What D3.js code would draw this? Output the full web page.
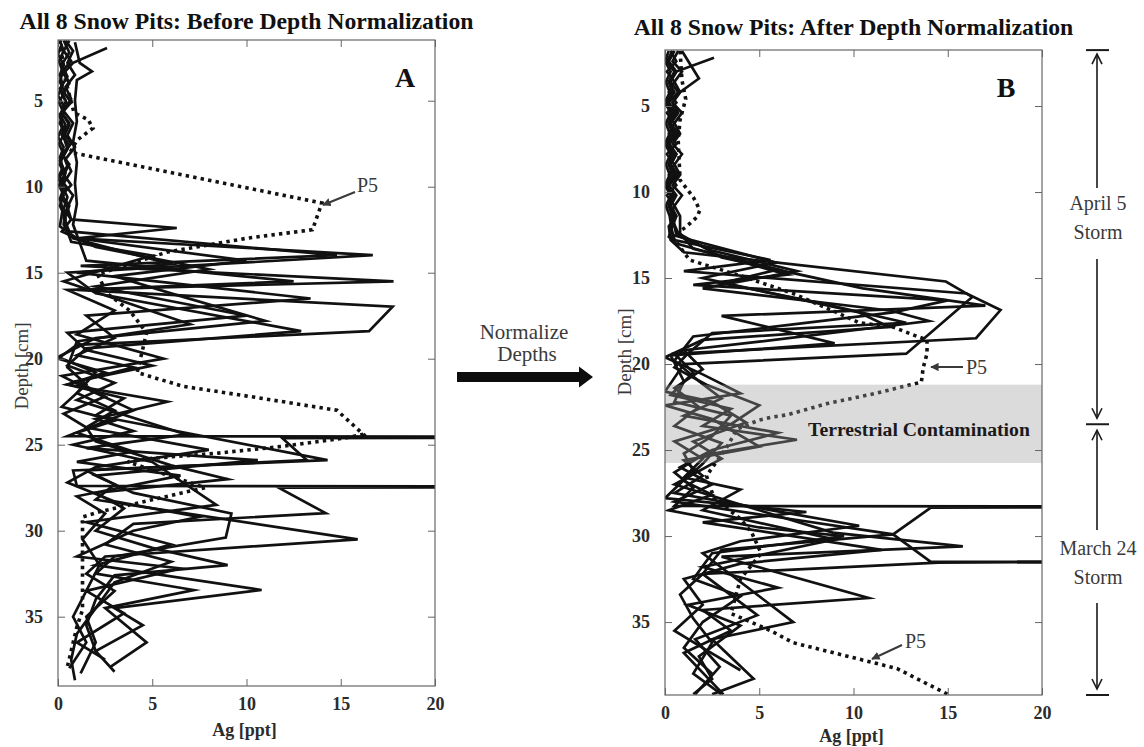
<!DOCTYPE html>
<html>
<head>
<meta charset="utf-8">
<script src="https://cdn.jsdelivr.net/npm/d3@7"></script>
<style>
  body { margin: 0; background: #fff; }
  svg text { font-family: "Liberation Serif", "DejaVu Serif", serif; }
</style>
</head>
<body>
<svg id="fig" width="1144" height="747"></svg>
<script>
// Ag concentration [ppt] vs depth [cm] for the eight snow pits.
// Each pit is a list of [Ag, depth] samples, top of the pit first.

// ---- Before depth normalization ----
const beforePit1 = [[0.3,1.5],[0.6,2.2],[0.2,2.9],[0.5,3.6],[0.1,4.3],[0.4,5.0],[0.2,5.7],[0.6,6.4],[0.3,7.1],[0.5,7.8],[0.1,8.5],[0.4,9.2],[0.2,9.9],[0.5,10.6],[0.3,11.3],[0.7,11.9],[6.3,12.4],[1.0,13.0],[16.7,13.98],[0.5,15.0],[2.0,16.2],[12.9,18.4],[1.5,19.4],[0.5,20.4],[3.0,21.4],[1.0,22.4],[6.8,24.4],[1.5,25.2],[10.6,25.9],[2.0,26.8],[4.0,27.8],[9.2,29.0],[8.9,30.4],[3.0,31.5],[2.0,32.5],[7.2,33.45],[2.5,34.5],[4.7,36.5],[2.8,37.9]];
const beforePit2 = [[2.6,1.94],[0.8,2.8],[0.3,3.4],[0.6,4.0],[0.2,4.6],[0.5,5.2],[0.1,5.8],[0.4,6.4],[0.2,7.0],[0.6,7.6],[0.3,8.2],[0.5,8.8],[0.1,9.4],[0.4,10.0],[0.2,10.6],[0.5,11.2],[0.3,11.8],[0.6,12.6],[14.8,13.98],[1.2,14.6],[17.8,15.5],[0.5,16.0],[3.0,17.2],[1.0,18.6],[5.6,20.0],[0.2,21.0],[2.0,22.0],[4.0,23.0],[0.5,24.5],[40,24.55],[11.9,24.62],[13.2,25.9],[1.5,26.5],[3.0,27.3],[2.0,28.2],[15.9,30.5],[2.5,31.5],[1.5,32.5],[3.0,33.5],[1.5,35.0],[2.0,36.5],[1.2,38.3]];
const beforePit3 = [[0.9,1.6],[1.15,2.8],[1.8,3.3],[1.0,3.8],[0.9,5.0],[1.0,6.2],[0.8,7.4],[1.0,8.6],[0.9,9.8],[1.0,11.0],[0.8,12.2],[1.5,14.3],[12.5,15.5],[1.0,16.0],[17.75,16.98],[16.5,18.4],[1.0,19.2],[0.0,20.0],[2.5,20.8],[0.5,21.5],[3.5,22.3],[2.0,23.3],[14.3,25.9],[0.8,26.5],[1.0,27.4],[40,27.45],[11.7,27.5],[14.2,28.98],[4.0,29.6],[2.5,30.8],[6.0,31.8],[3.0,33.0],[2.0,34.5],[1.0,36.0],[0.7,37.5],[0.9,38.7]];
const beforePit4 = [[0.1,1.5],[0.3,2.1],[0.05,2.7],[0.25,3.3],[0.1,3.9],[0.35,4.5],[0.05,5.1],[0.3,5.7],[0.1,6.3],[0.35,6.9],[0.05,7.5],[0.3,8.1],[0.1,8.7],[0.35,9.3],[0.05,9.9],[0.3,10.5],[0.1,11.1],[0.35,11.7],[0.3,12.2],[0.8,13.0],[6.0,14.5],[1.0,15.0],[13.4,16.5],[1.5,17.5],[3.0,18.8],[1.0,19.8],[4.0,20.5],[0.5,21.5],[5.8,22.5],[2.0,23.5],[4.0,24.2],[0.8,25.0],[5.0,26.0],[8.4,28.5],[1.5,29.5],[6.0,30.8],[2.0,32.0],[10.8,33.45],[3.0,34.5],[4.5,35.5],[2.0,37.0],[3.0,38.2]];
const beforePit6 = [[0.4,1.5],[0.8,2.1],[0.5,2.8],[0.9,3.5],[0.4,4.2],[0.7,4.9],[0.3,5.6],[0.8,6.3],[0.5,7.0],[0.9,7.7],[0.4,8.4],[0.7,9.1],[0.3,9.8],[0.8,10.5],[0.5,11.2],[0.7,11.9],[0.2,12.6],[2.0,13.5],[8.0,14.8],[2.0,15.8],[10.0,17.5],[0.5,18.5],[1.5,19.5],[5.0,20.4],[1.0,21.3],[2.5,22.2],[0.3,23.2],[1.5,24.0],[8.0,25.3],[2.0,26.3],[0.5,27.2],[3.0,28.3],[7.5,29.2],[4.0,30.0],[1.0,31.5],[6.5,32.2],[1.5,33.5],[3.5,34.8],[1.0,36.5],[2.5,37.5]];
const beforePit7 = [[0.2,1.7],[0.0,2.3],[0.3,2.9],[0.1,3.5],[0.25,4.1],[0.0,4.7],[0.3,5.3],[0.1,5.9],[0.25,6.5],[0.0,7.1],[0.3,7.7],[0.1,8.3],[0.25,8.9],[0.0,9.5],[0.3,10.1],[0.1,10.7],[0.25,11.3],[0.1,12.3],[1.0,13.0],[10.0,14.3],[3.0,15.2],[6.0,16.2],[11.0,17.8],[2.0,18.8],[0.0,19.9],[2.0,20.8],[1.0,22.0],[3.0,23.0],[1.5,24.0],[2.0,24.8],[6.0,26.2],[9.0,27.0],[2.0,27.8],[3.5,28.7],[2.0,30.0],[5.0,31.0],[9.0,32.0],[3.0,32.6],[2.0,34.0],[1.5,35.5],[2.0,37.0]];
const beforePit8 = [[0.6,1.5],[0.3,2.1],[0.7,2.7],[0.2,3.3],[0.6,3.9],[0.3,4.5],[0.7,5.1],[0.2,5.7],[0.6,6.3],[0.3,6.9],[0.7,7.5],[0.2,8.1],[0.6,8.7],[0.3,9.3],[0.7,9.9],[0.2,10.5],[0.6,11.1],[0.4,11.7],[0.4,12.3],[0.7,13.2],[5.0,14.0],[0.3,15.5],[3.0,16.5],[7.0,18.0],[1.0,19.0],[0.5,20.5],[1.5,21.5],[0.2,22.8],[3.0,23.6],[1.0,24.3],[4.0,25.4],[1.0,26.0],[6.5,26.8],[1.0,28.0],[2.5,29.0],[1.3,30.5],[2.2,32.0],[1.5,33.5],[0.8,35.0],[1.5,36.5],[0.6,38.0]];
const beforeP5 = [[0.1,1.5],[0.4,3.8],[0.85,5.7],[1.6,6.1],[1.85,6.6],[1.0,7.3],[0.65,8.0],[14.0,10.95],[13.5,12.5],[10.0,13.0],[5.8,13.8],[2.1,15.1],[2.6,16.2],[3.8,17.2],[4.7,18.5],[4.2,20.8],[6.6,21.6],[10.2,22.2],[14.8,23.0],[16.2,24.4],[15.3,24.6],[11.9,25.1],[8.4,25.5],[4.9,25.8],[3.7,26.0],[7.8,27.5],[2.2,28.9],[1.3,29.2],[1.3,32.1],[1.3,34.6],[1.0,35.6],[0.5,37.9]];

// ---- After depth normalization ----
const afterPit1 = [[2.6,2.2],[0.6,3.0],[0.2,3.6],[0.5,4.2],[0.1,4.8],[0.4,5.4],[0.2,6.0],[0.5,6.6],[0.1,7.2],[0.4,7.8],[0.2,8.4],[0.5,9.0],[0.1,9.6],[0.4,10.2],[0.2,10.8],[0.5,11.4],[0.3,12.0],[0.5,12.8],[5.6,13.95],[1.0,14.6],[16.0,15.9],[17.8,16.86],[16.5,18.5],[0.5,19.4],[1.5,20.5],[0.3,21.8],[3.5,22.6],[2.0,23.6],[7.0,24.4],[2.0,25.3],[0.5,26.3],[1.5,27.2],[0.5,28.25],[40,28.3],[14.1,28.35],[12.1,29.9],[3.0,30.8],[2.0,32.2],[4.9,34.6],[1.6,36.0],[2.9,37.6],[1.6,39.2]];
const afterPit2 = [[0.9,1.8],[1.8,3.4],[0.8,4.2],[0.4,4.8],[0.7,5.4],[0.3,6.0],[0.6,6.6],[0.2,7.2],[0.6,7.8],[0.3,8.4],[0.6,9.0],[0.2,9.6],[0.5,10.2],[0.3,10.8],[0.6,11.4],[0.2,12.0],[0.3,12.8],[1.0,13.5],[14.9,15.2],[16.3,16.1],[12.8,19.4],[1.0,20.0],[0.0,21.6],[2.5,22.2],[4.3,23.4],[1.5,24.5],[3.0,25.5],[0.5,27.0],[8.9,29.8],[15.8,30.6],[3.0,31.2],[10.8,33.6],[2.0,34.3],[3.5,35.5],[1.0,36.8],[3.1,39.2]];
const afterPit3 = [[0.2,1.8],[0.0,2.4],[0.3,3.0],[0.05,3.6],[0.25,4.2],[0.0,4.8],[0.3,5.4],[0.05,6.0],[0.25,6.6],[0.0,7.2],[0.3,7.8],[0.05,8.4],[0.25,9.0],[0.0,9.6],[0.3,10.2],[0.05,10.8],[0.25,11.4],[0.4,12.5],[5.9,14.1],[2.0,15.0],[10.3,17.0],[11.9,17.85],[2.0,18.6],[0.0,19.6],[2.0,20.6],[4.0,21.7],[0.0,22.4],[2.5,23.2],[5.0,24.8],[1.0,25.6],[2.0,26.5],[0.5,27.5],[10.3,29.4],[4.0,30.3],[2.0,31.0],[6.8,35.0],[2.5,36.0],[4.7,38.3],[2.5,39.2]];
const afterPit4 = [[0.5,1.8],[0.2,2.4],[0.6,3.0],[0.3,3.6],[0.7,4.2],[0.2,4.8],[0.6,5.4],[0.3,6.0],[0.7,6.6],[0.2,7.2],[0.6,7.8],[0.3,8.4],[0.7,9.0],[0.2,9.6],[0.6,10.2],[0.3,10.8],[0.6,11.4],[0.2,12.6],[0.6,13.0],[6.5,14.8],[1.5,15.4],[15.0,16.3],[12.1,17.0],[1.5,18.4],[0.5,19.8],[1.8,21.0],[3.0,22.0],[1.0,23.0],[6.0,24.0],[2.5,25.0],[0.8,26.0],[2.5,27.0],[0.5,28.0],[12.1,29.9],[14.1,31.5],[40,31.45],[14.5,31.55],[2.0,32.2],[0.8,33.4],[1.5,34.8],[2.5,36.2],[1.5,38.0],[3.0,39.2]];
const afterPit6 = [[0.7,1.8],[0.4,2.4],[0.9,3.0],[0.5,3.6],[0.8,4.2],[0.4,4.8],[0.9,5.4],[0.5,6.0],[0.8,6.6],[0.4,7.2],[0.9,7.8],[0.5,8.4],[0.8,9.0],[0.4,9.6],[0.9,10.2],[0.5,10.8],[0.8,11.4],[0.8,12.4],[1.5,13.3],[6.0,14.5],[3.0,15.3],[8.0,16.4],[12.8,17.6],[2.5,18.2],[1.2,19.4],[0.5,20.2],[2.2,21.2],[5.0,22.4],[3.5,23.5],[0.5,24.5],[2.0,25.5],[1.0,26.6],[4.0,27.3],[2.0,28.5],[9.0,30.2],[2.0,31.8],[6.0,33.0],[1.2,34.0],[4.0,35.2],[1.8,37.0],[2.5,38.3],[1.5,39.2]];
const afterPit7 = [[0.3,1.8],[0.6,2.4],[0.1,3.0],[0.5,3.6],[0.2,4.2],[0.6,4.8],[0.1,5.4],[0.5,6.0],[0.2,6.6],[0.6,7.2],[0.1,7.8],[0.5,8.4],[0.2,9.0],[0.6,9.6],[0.1,10.2],[0.5,10.8],[0.3,11.4],[0.7,12.4],[3.0,13.8],[10.5,15.6],[17.0,16.6],[3.0,17.2],[9.0,18.8],[0.3,19.5],[1.0,21.0],[0.5,22.2],[3.5,23.0],[2.5,24.2],[1.0,25.2],[1.5,26.2],[0.0,27.8],[7.5,28.6],[2.0,29.2],[11.5,30.8],[4.0,31.6],[1.0,32.5],[2.0,34.0],[0.5,35.5],[2.0,36.5],[4.0,37.8]];
const afterPit8 = [[0.4,1.8],[0.1,2.4],[0.5,3.0],[0.2,3.6],[0.4,4.2],[0.1,4.8],[0.5,5.4],[0.2,6.0],[0.4,6.6],[0.1,7.2],[0.5,7.8],[0.2,8.4],[0.4,9.0],[0.1,9.6],[0.5,10.2],[0.2,10.8],[0.4,11.4],[0.6,12.5],[2.5,13.4],[7.0,14.6],[2.0,15.6],[12.0,16.9],[14.0,17.5],[5.0,18.7],[1.0,19.2],[2.0,20.3],[0.5,21.4],[1.8,22.5],[0.5,23.6],[3.0,24.6],[2.0,25.8],[1.0,26.8],[2.5,27.6],[0.2,28.5],[5.0,29.5],[9.5,30.0],[2.5,31.0],[1.5,32.5],[4.0,33.5],[2.0,35.0],[1.0,36.5],[2.5,38.0]];
const afterP5 = [[0.8,1.8],[0.9,3.5],[1.1,4.6],[0.8,5.8],[0.7,7.0],[0.8,9.3],[1.5,10.3],[1.85,11.05],[1.7,11.45],[1.15,12.0],[0.4,12.6],[1.3,13.95],[4.1,14.9],[6.8,15.9],[9.1,17.0],[10.3,17.6],[12.1,17.85],[13.4,18.4],[13.9,18.6],[13.9,19.4],[13.7,20.2],[13.6,21.05],[11.2,21.7],[8.6,22.3],[6.5,22.95],[5.6,23.1],[5.0,23.25],[3.8,23.8],[3.3,24.8],[2.2,26.5],[2.6,27.8],[4.0,29.0],[4.6,29.8],[5.1,31.0],[4.0,32.5],[3.5,34.5],[5.6,35.5],[6.8,36.2],[12.3,37.7],[15.0,39.2]];

// Axis ticks and annotation values
const agTicks = [0, 5, 10, 15, 20];
const depthTicks = [5, 10, 15, 20, 25, 30, 35];
const contaminationDepths = [21.2, 25.75];     // terrestrial contamination layer [cm]
const stormBoundaryDepths = [1.75, 23.5, 39.24]; // April 5 top, storm boundary, March 24 bottom

const panels = [
  { key: "A", title: "All 8 Snow Pits: Before Depth Normalization",
    left: 58, right: 435, top: 40, bottom: 686, depth: [1.47, 39.03],
    titleY: 29, titleW: 454, xlabY: 736, letterX: 405,
    pits: [beforePit1, beforePit2, beforePit3, beforePit4, beforePit6, beforePit7, beforePit8],
    p5: beforeP5, labelYc: 366, ylabX: 21 },
  { key: "B", title: "All 8 Snow Pits: After Depth Normalization",
    left: 665, right: 1042, top: 50, bottom: 695, depth: [1.744, 39.24],
    titleY: 35, titleW: 440, xlabY: 742, letterX: 1006,
    pits: [afterPit1, afterPit2, afterPit3, afterPit4, afterPit6, afterPit7, afterPit8],
    p5: afterP5, labelYc: 352, ylabX: 624 }
];

const svg = d3.select("#fig");
const defs = svg.append("defs");
const ink = "#111";
const grey = "#3a3a3a";

defs.append("marker").attr("id", "tri").attr("viewBox", "0 0 10 10")
  .attr("refX", 9).attr("refY", 5).attr("markerWidth", 4.2).attr("markerHeight", 4.2)
  .attr("orient", "auto")
  .append("path").attr("d", "M0,0L10,5L0,10Z").attr("fill", grey);

function fitText(sel, width) {
  const w = sel.node().getComputedTextLength();
  const fs = parseFloat(sel.attr("font-size"));
  sel.attr("font-size", fs * width / w);
}

panels.forEach(p => {
  const x = d3.scaleLinear().domain([0, 20]).range([p.left, p.right]);
  const y = d3.scaleLinear().domain(p.depth).range([p.top, p.bottom]);
  const g = svg.append("g");

  defs.append("clipPath").attr("id", "clip" + p.key)
    .append("rect").attr("x", p.left).attr("y", p.top)
    .attr("width", p.right - p.left).attr("height", p.bottom - p.top);

  const line = d3.line().x(d => x(d[0])).y(d => y(d[1]));
  const plot = g.append("g").attr("clip-path", `url(#clip${p.key})`);

  plot.selectAll("path.pit").data(p.pits).join("path")
    .attr("class", "pit").attr("d", line)
    .attr("fill", "none").attr("stroke", ink).attr("stroke-width", 2.7)
    .attr("stroke-linejoin", "miter").attr("stroke-miterlimit", 6);

  plot.append("path").datum(p.p5).attr("d", line)
    .attr("fill", "none").attr("stroke", ink).attr("stroke-width", 3.6)
    .attr("stroke-dasharray", "3.4,4.2");

  // contamination layer drawn as a translucent band over the profiles
  if (p.key === "B") {
    g.append("rect")
      .attr("x", p.left).attr("width", p.right - p.left)
      .attr("y", y(contaminationDepths[0]))
      .attr("height", y(contaminationDepths[1]) - y(contaminationDepths[0]))
      .attr("fill", "#9c9c9c").attr("fill-opacity", 0.37);
    const tc = g.append("text").attr("x", 919).attr("y", 436)
      .attr("text-anchor", "middle").attr("font-weight", "bold")
      .attr("font-size", 17).attr("fill", "#1a1a1a")
      .text("Terrestrial Contamination");
    fitText(tc, 222);
  }

  // axes with inward ticks on all four sides
  const tickCol = "#666";
  const axB = g.append("g").attr("transform", `translate(0,${p.bottom})`)
    .call(d3.axisBottom(x).tickValues(agTicks).tickSize(-7).tickPadding(24).tickFormat(d3.format("d")));
  const axT = g.append("g").attr("transform", `translate(0,${p.top})`)
    .call(d3.axisTop(x).tickValues(agTicks).tickSize(-7).tickFormat(""));
  const axL = g.append("g").attr("transform", `translate(${p.left},0)`)
    .call(d3.axisLeft(y).tickValues(depthTicks).tickSize(-7).tickPadding(15).tickFormat(d3.format("d")));
  const axR = g.append("g").attr("transform", `translate(${p.right},0)`)
    .call(d3.axisRight(y).tickValues(depthTicks).tickSize(-7).tickFormat(""));
  [axB, axT, axL, axR].forEach(a => {
    a.select(".domain").remove();
    a.selectAll(".tick line").attr("stroke", tickCol).attr("stroke-width", 1);
    a.selectAll(".tick text").attr("font-family", "Liberation Serif, serif")
      .attr("font-size", 18).attr("font-weight", "bold").attr("fill", "#2b2b2b");
  });
  axB.selectAll(".tick text").attr("dy", "0");

  g.append("rect").attr("x", p.left).attr("y", p.top)
    .attr("width", p.right - p.left).attr("height", p.bottom - p.top)
    .attr("fill", "none").attr("stroke", tickCol).attr("stroke-width", 1.2);

  // labels
  const t = g.append("text").attr("x", (p.left + p.right) / 2).attr("y", p.titleY)
    .attr("text-anchor", "middle").attr("font-weight", "bold").attr("font-size", 20)
    .attr("fill", "#111").text(p.title);
  fitText(t, p.titleW);

  g.append("text").attr("x", (p.left + p.right) / 2 - 2).attr("y", p.xlabY)
    .attr("text-anchor", "middle").attr("font-weight", "bold").attr("font-size", 18)
    .attr("fill", "#2b2b2b").text("Ag [ppt]");

  g.append("text").attr("transform", `translate(${p.ylabX},${p.labelYc}) rotate(-90)`)
    .attr("text-anchor", "middle").attr("dy", "0.35em").attr("font-size", 19)
    .attr("fill", grey).text("Depth [cm]");

  g.append("text").attr("x", p.letterX).attr("y", p.top + 47)
    .attr("text-anchor", "middle").attr("font-weight", "bold").attr("font-size", 28)
    .attr("fill", "#111").text(p.key);
});

// P5 callouts
const p5Notes = [
  { tx: 357, ty: 192, x1: 355, y1: 192, x2: 323, y2: 205 },
  { tx: 966, ty: 374, x1: 963, y1: 367, x2: 931, y2: 367 },
  { tx: 905, ty: 648, x1: 902, y1: 645, x2: 872, y2: 659 }
];
p5Notes.forEach(n => {
  svg.append("line").attr("x1", n.x1).attr("y1", n.y1).attr("x2", n.x2).attr("y2", n.y2)
    .attr("stroke", grey).attr("stroke-width", 2).attr("marker-end", "url(#tri)");
  svg.append("text").attr("x", n.tx).attr("y", n.ty).attr("font-size", 20)
    .attr("fill", grey).text("P5");
});

// "Normalize Depths" arrow between the panels
svg.append("text").attr("x", 524).attr("y", 339).attr("text-anchor", "middle")
  .attr("font-size", 21).attr("fill", grey).text("Normalize");
svg.append("text").attr("x", 527).attr("y", 361).attr("text-anchor", "middle")
  .attr("font-size", 21).attr("fill", grey).text("Depths");
svg.append("path")
  .attr("d", "M457,372L579,372L579,366.5L593,377L579,387.5L579,382L457,382Z")
  .attr("fill", "#0d0d0d");

// storm brackets to the right of panel B
const yB = d3.scaleLinear().domain(panels[1].depth).range([panels[1].top, panels[1].bottom]);
const sx = 1097;
const st = svg.append("g").attr("stroke", "#1a1a1a").attr("fill", "none");
stormBoundaryDepths.forEach(d => {
  st.append("line").attr("x1", sx - 11).attr("x2", sx + 12)
    .attr("y1", yB(d)).attr("y2", yB(d)).attr("stroke-width", 2);
});
function vArrow(yFrom, yTip) {
  st.append("line").attr("x1", sx).attr("x2", sx).attr("y1", yFrom).attr("y2", yTip)
    .attr("stroke-width", 1.6);
  const s = yTip < yFrom ? 1 : -1;
  st.append("path").attr("d", `M${sx - 5},${yTip + s * 10}L${sx},${yTip}L${sx + 5},${yTip + s * 10}`)
    .attr("stroke-width", 1.6);
}
vArrow(188, yB(stormBoundaryDepths[0]) + 4);
vArrow(259, yB(stormBoundaryDepths[1]) - 6);
vArrow(530, yB(stormBoundaryDepths[1]) + 6);
vArrow(603, yB(stormBoundaryDepths[2]) - 6);

const storms = [
  { lines: ["April 5", "Storm"], y: 210 },
  { lines: ["March 24", "Storm"], y: 555 }
];
storms.forEach(s => {
  s.lines.forEach((l, i) => {
    svg.append("text").attr("x", sx + 1).attr("y", s.y + i * 29)
      .attr("text-anchor", "middle").attr("font-size", 20).attr("fill", grey).text(l);
  });
});
</script>
</body>
</html>
